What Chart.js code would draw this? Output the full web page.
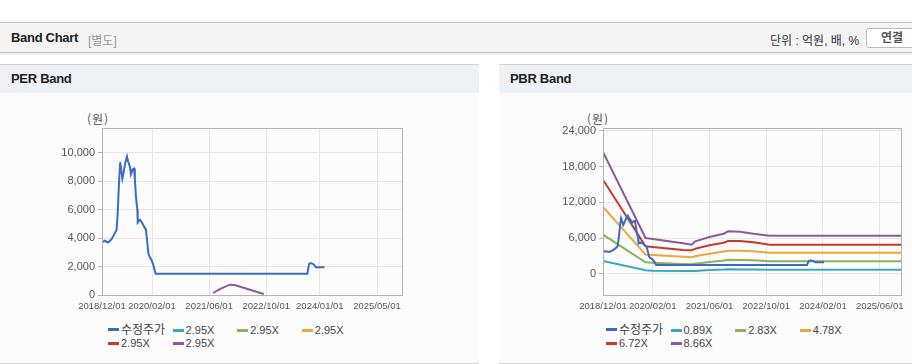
<!DOCTYPE html>
<html lang="ko">
<head>
  <meta charset="UTF-8">
  <title>Band Chart</title>
  <script src="https://cdn.jsdelivr.net/npm/chart.js"></script>
  <style>
    body {
      margin: 0;
      width: 912px;
      height: 364px;
      position: relative;
      overflow: hidden;
      background: #fff;
      font-family: 'Liberation Sans', Arial, 'Noto Sans CJK KR', sans-serif;
      color: #222;
    }

    .hdr {
      position: absolute;
      left: 0; top: 22px;
      width: 912px; height: 29px;
      background: #f4f4f4;
      border-top: 1px solid #c4c4c4;
      border-bottom: 1px solid #c8c8c8;
      box-shadow: 0 1px 2px rgba(0,0,0,0.12);
    }
    .hdr .title {
      position: absolute; left: 11px; top: 7px;
      font-weight: bold; font-size: 13px; letter-spacing: -0.3px;
    }
    .hdr .sub {
      position: absolute; left: 88px; top: 8px;
      font-size: 12px; color: #999;
    }
    .hdr .unit {
      position: absolute; left: 770px; top: 8px;
      font-size: 12px; color: #333;
    }
    .hdr .btn {
      position: absolute; left: 866px; top: 5px;
      width: 50px; height: 18px;
      border: 1px solid #bbb; border-radius: 3px;
      background: #fff;
      font-size: 12px; font-weight: bold; color: #555;
      text-align: center; line-height: 18px;
    }

    .panel {
      position: absolute;
      top: 64px; height: 298px;
      background: #fcfcfc;
      border-top: 1px solid #d4d4d4;
      border-bottom: 1px solid #d0d0d0;
    }
    .panel .ph {
      height: 28px;
      background: #eef1f6;
      font-weight: bold; font-size: 13px;
      line-height: 28px; padding-left: 11px;
      letter-spacing: -0.3px;
    }
    .panel canvas {
      position: absolute; left: 0; top: 28px;
    }
    .unitlbl {
      position: absolute; top: 45px;
      font-size: 12px; color: #555;
      letter-spacing: 1px;
      font-family: 'Noto Sans CJK KR', sans-serif;
    }
    .legend {
      position: absolute; top: 259px;
      width: 270px;
      font-size: 11px; color: #444;
    }
    .legend .item {
      display: inline-block;
      width: 64.6px; height: 13px;
      line-height: 13px;
      white-space: nowrap;
      font-family: 'Liberation Sans', Arial, 'Noto Sans CJK KR', sans-serif;
    }
    .legend .item.kr {
      font-size: 12px;
    }
    .legend .mark {
      display: inline-block;
      width: 11px; height: 3px;
      vertical-align: middle;
      margin-right: 2px;
      position: relative; top: -1px;
    }
  </style>
</head>
<body>
  <div class="hdr">
    <span class="title">Band Chart</span>
    <span class="sub">[별도]</span>
    <span class="unit">단위 : 억원, 배, %</span>
    <span class="btn">연결</span>
  </div>

  <div class="panel" style="left:0; width:479px;">
    <div class="ph">PER Band</div>
    <span class="unitlbl" style="left:87px;">(원)</span>
    <canvas id="perChart" width="479" height="225"></canvas>
    <div class="legend" id="perLegend" style="left:108px;"></div>
  </div>

  <div class="panel" style="left:499px; width:413px;">
    <div class="ph">PBR Band</div>
    <span class="unitlbl" style="left:88px;">(원)</span>
    <canvas id="pbrChart" width="413" height="225"></canvas>
    <div class="legend" id="pbrLegend" style="left:107px;"></div>
  </div>

  <script>
    // 수정주가
    const priceDates = [
      '2018/12/01', '2018/12/23', '2019/01/22', '2019/02/19', '2019/03/13', '2019/04/04',
      '2019/04/13', '2019/04/19', '2019/04/25', '2019/05/04', '2019/05/13', '2019/05/22',
      '2019/06/04', '2019/06/16', '2019/07/01', '2019/07/10', '2019/07/25', '2019/08/04',
      '2019/08/19', '2019/09/01', '2019/09/07', '2019/09/16', '2019/09/28', '2019/10/01',
      '2019/10/19', '2019/11/04', '2019/11/22', '2019/12/10', '2019/12/22', '2020/01/01',
      '2020/01/13', '2020/01/28', '2020/02/13', '2020/03/01', '2023/09/16', '2023/10/01',
      '2023/10/16', '2023/11/10', '2023/11/28', '2024/02/10'
    ];
    const priceValues = [
      3700, 3820, 3700, 3900, 4250, 4600,
      5800, 6950, 8100, 9350, 8800, 8200,
      8700, 9300, 9750, 9400, 9050, 8500,
      8850, 8900, 8150, 6950, 6000, 5100,
      5300, 5150, 4850, 4600, 3650, 2900,
      2650, 2450, 2100, 1500, 1500, 2200,
      2250, 2150, 1950, 1950
    ];

    // PER 밴드 (화면에 보이는 구간만)
    const perBandDates = ['2021/07/04', '2021/09/01', '2021/11/24', '2022/01/06', '2022/09/10'];
    const perBand5 = [140, 420, 725, 700, 70];
    const perLabels = ['수정주가', '2.95X', '2.95X', '2.95X', '2.95X', '2.95X'];

    // PBR 밴드
    const pbrBandDates = [
      '2018/12/01', '2019/12/01', '2020/02/01', '2020/10/19', '2021/01/01', '2021/02/01',
      '2021/06/01', '2021/10/01', '2021/11/10', '2022/02/19', '2022/06/13', '2022/11/01',
      '2025/12/01'
    ];
    const pbr089 = [2180, 610, 560, 510, 500, 520, 670, 740, 780, 770, 750, 725, 725];
    const pbr283 = [6580, 1950, 1900, 1680, 1620, 1730, 2010, 2250, 2400, 2340, 2290, 2120, 2120];
    const pbr478 = [11220, 3240, 3180, 2870, 2790, 2960, 3400, 3750, 3900, 3900, 3790, 3570, 3570];
    const pbr672 = [15790, 4630, 4520, 4000, 3960, 4240, 4800, 5230, 5520, 5520, 5300, 4910, 4910];
    const pbr866 = [20420, 6030, 5860, 5130, 4910, 5470, 6190, 6750, 7140, 7090, 6750, 6420, 6420];
    const pbrLabels = ['수정주가', '0.89X', '2.83X', '4.78X', '6.72X', '8.66X'];

    // 축 눈금
    const perXTicks = ['2018/12/01', '2020/02/01', '2021/06/01', '2022/10/01', '2024/01/01', '2025/05/01'];
    const pbrXTicks = ['2018/12/01', '2020/02/01', '2021/06/01', '2022/10/01', '2024/02/01', '2025/06/01'];
    const perYTicks = [0, 2000, 4000, 6000, 8000, 10000];
    const pbrYTicks = [0, 6000, 12000, 18000, 24000];

    const colors = ['#3a6cc6', '#38a9c0', '#8db35b', '#e9a73f', '#c33a2f', '#8b5a9c'];

    // 2018/12/01 기준 개월 수
    function monthIndex(s) {
      const p = s.split('/').map(Number);
      return (p[0] - 2018) * 12 + (p[1] - 12) + (p[2] - 1) / 30;
    }

    function points(dates, values) {
      return dates.map((d, i) => ({ x: monthIndex(d), y: values[i] }));
    }

    function formatNumber(n) {
      return n.toLocaleString('en-US');
    }

    // 차트 영역 테두리
    const frame = {
      id: 'frame',
      afterDraw(chart) {
        const a = chart.chartArea;
        const c = chart.ctx;
        c.save();
        c.strokeStyle = '#b4b4b4';
        c.lineWidth = 1;
        c.strokeRect(Math.round(a.left) + 0.5, Math.round(a.top) + 0.5,
          Math.round(a.right - a.left), Math.round(a.bottom - a.top));
        c.restore();
      }
    };

    function makeChart(id, datasets, opt) {
      return new Chart(document.getElementById(id), {
        type: 'line',
        data: { datasets: datasets },
        plugins: [frame],
        options: {
          responsive: false,
          animation: false,
          events: [],
          layout: { padding: { left: 0, right: opt.padRight, top: 35, bottom: 1 } },
          plugins: { legend: { display: false }, tooltip: { enabled: false } },
          elements: { point: { radius: 0 }, line: { borderWidth: 2, tension: 0 } },
          scales: {
            x: {
              type: 'linear',
              min: 0,
              max: 84,
              afterFit(s) { s.height = 22; },
              afterBuildTicks(s) { s.ticks = opt.xTicks.map(t => ({ value: monthIndex(t) })); },
              grid: { color: '#e6e6e6', drawTicks: false },
              border: { display: false },
              ticks: {
                autoSkip: false, maxRotation: 0, padding: 6,
                color: '#555', font: { size: 9.5, family: "'Liberation Sans', Arial" },
                callback: (v, i) => opt.xTicks[i]
              }
            },
            y: {
              min: opt.yMin,
              max: opt.yMax,
              afterFit(s) { s.width = opt.yWidth; },
              afterBuildTicks(s) { s.ticks = opt.yTicks.map(v => ({ value: v })); },
              grid: { color: '#e6e6e6', tickColor: '#b4b4b4', tickLength: 4 },
              border: { display: false },
              ticks: {
                padding: 3,
                color: '#555', font: { size: 11, family: "'Liberation Sans', Arial" },
                callback: v => formatNumber(v)
              }
            }
          }
        }
      });
    }

    function lineSet(label, data, color) {
      return { label: label, data: data, borderColor: color, backgroundColor: color, fill: false };
    }

    const perSets = [
      lineSet(perLabels[0], points(priceDates, priceValues), colors[0]),
      lineSet(perLabels[1], [], colors[1]),
      lineSet(perLabels[2], [], colors[2]),
      lineSet(perLabels[3], [], colors[3]),
      lineSet(perLabels[4], [], colors[4]),
      lineSet(perLabels[5], points(perBandDates, perBand5), colors[5])
    ];

    const pbrSets = [
      lineSet(pbrLabels[0], points(priceDates, priceValues), colors[0]),
      lineSet(pbrLabels[1], points(pbrBandDates, pbr089), colors[1]),
      lineSet(pbrLabels[2], points(pbrBandDates, pbr283), colors[2]),
      lineSet(pbrLabels[3], points(pbrBandDates, pbr478), colors[3]),
      lineSet(pbrLabels[4], points(pbrBandDates, pbr672), colors[4]),
      lineSet(pbrLabels[5], points(pbrBandDates, pbr866), colors[5])
    ];

    const perChart = makeChart('perChart', perSets, {
      padRight: 77, yWidth: 102, yMin: 0, yMax: 11760,
      xTicks: perXTicks, yTicks: perYTicks
    });
    const pbrChart = makeChart('pbrChart', pbrSets, {
      padRight: 11, yWidth: 104, yMin: -3520, yMax: 24450,
      xTicks: pbrXTicks, yTicks: pbrYTicks
    });

    // 범례
    function buildLegend(chart, elId) {
      const box = document.getElementById(elId);
      chart.data.datasets.forEach(ds => {
        const item = document.createElement('span');
        item.className = /[가-힣]/.test(ds.label) ? 'item kr' : 'item';
        item.innerHTML = '<span class="mark" style="background:' + ds.borderColor + '"></span>' + ds.label;
        box.appendChild(item);
      });
    }
    buildLegend(perChart, 'perLegend');
    buildLegend(pbrChart, 'pbrLegend');
  </script>
</body>
</html>
